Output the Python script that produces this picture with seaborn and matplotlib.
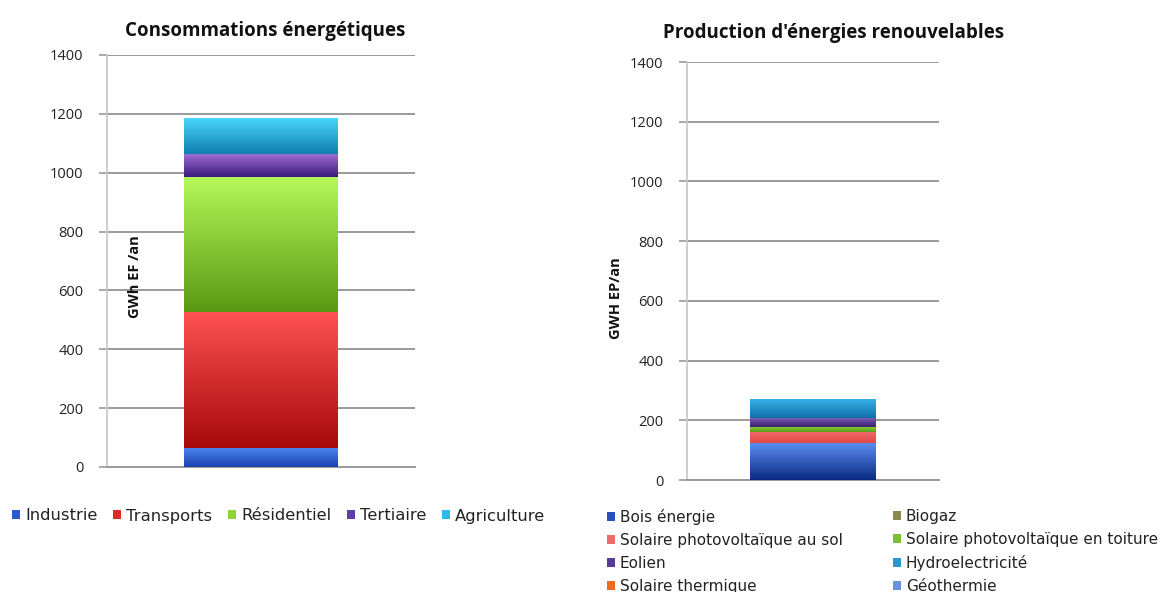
import numpy as np
import pandas as pd
import matplotlib
matplotlib.use("Agg")
import matplotlib.pyplot as plt
from matplotlib.patches import Patch
from matplotlib.colors import LinearSegmentedColormap
import seaborn as sns

# ---------------- data ----------------
conso_categories = ["Industrie", "Transports", "Résidentiel", "Tertiaire", "Agriculture"]
conso_values = [65, 463, 456, 79, 119]

prod_categories = ["Bois énergie", "Biogaz", "Solaire photovoltaïque au sol",
                   "Solaire photovoltaïque en toiture", "Eolien", "Hydroelectricité",
                   "Solaire thermique", "Géothermie"]
prod_values = [123, 0, 38, 17, 31, 63, 0, 0]

yticks = [0, 200, 400, 600, 800, 1000, 1200, 1400]

# colours (top, bottom) of gradients
conso_colors = {
    "Industrie": ("#4f86f0", "#1a44b0"),
    "Transports": ("#ff5252", "#a60a0a"),
    "Résidentiel": ("#b4f75a", "#5a9812"),
    "Tertiaire": ("#a070d8", "#3a1a7c"),
    "Agriculture": ("#48d4fa", "#1080b2"),
}
prod_colors = {
    "Bois énergie": ("#5a8cf2", "#0c2a84"),
    "Biogaz": ("#9a9a5a", "#6e6e36"),
    "Solaire photovoltaïque au sol": ("#f26a6a", "#e04848"),
    "Solaire photovoltaïque en toiture": ("#8ad03a", "#5e9e18"),
    "Eolien": ("#8060b8", "#3a2070"),
    "Hydroelectricité": ("#38b0e8", "#1070a8"),
    "Solaire thermique": ("#f47a30", "#e05a10"),
    "Géothermie": ("#7aa0ea", "#4a78d0"),
}
legend_conso = {"Industrie": "#2a5ad0", "Transports": "#e02a2a", "Résidentiel": "#8cd43a",
                "Tertiaire": "#6040a8", "Agriculture": "#30b8e8"}
legend_prod = {"Bois énergie": "#2a50c0", "Biogaz": "#8a8a50",
               "Solaire photovoltaïque au sol": "#f06a6a",
               "Solaire photovoltaïque en toiture": "#7ac030",
               "Eolien": "#5a3a98", "Hydroelectricité": "#2898d0",
               "Solaire thermique": "#f06a20", "Géothermie": "#6a90e0"}

sns.set_theme(style="white")
plt.rcParams['font.family'] = ['Lato', 'DejaVu Sans']

fig = plt.figure(figsize=(11.73, 5.92), dpi=100)
W, H = 1173, 592


def axes_px(x0, y0, x1, y1):
    return fig.add_axes([x0 / W, 1 - y1 / H, (x1 - x0) / W, (y1 - y0) / H])


ax1 = axes_px(107, 55, 415, 467)
ax2 = axes_px(687, 62, 939, 480)


def stacked(ax, cats, vals, cols):
    bottom = 0.0
    for c, v in zip(cats, vals):
        df = pd.DataFrame({"g": ["total"], "v": [v]})
        n_before = len(ax.patches)
        sns.barplot(data=df, x="g", y="v", ax=ax, bottom=bottom, width=0.5,
                    color=cols[c][0], linewidth=0, errorbar=None)
        for p in ax.patches[n_before:]:
            x0, y0 = p.get_x(), p.get_y()
            w, h = p.get_width(), p.get_height()
            if h <= 0:
                continue
            cmap = LinearSegmentedColormap.from_list("g", [cols[c][1], cols[c][0]])
            grad = np.linspace(0, 1, 64).reshape(-1, 1)
            ax.imshow(grad, cmap=cmap, extent=(x0, x0 + w, y0, y0 + h),
                      origin="lower", aspect="auto", zorder=3, interpolation="bicubic")
        bottom += v


def style(ax, title, pad):
    ax.set_ylim(0, 1400)
    ax.set_xlim(-0.5, 0.5)
    ax.set_yticks(yticks)
    ax.set_yticklabels([str(t) for t in yticks], fontsize=10.5, color="#222222",
                       family=['Open Sans', 'DejaVu Sans'])
    ax.yaxis.grid(True, color="#9a9a9a", linewidth=1.4)
    ax.set_axisbelow(True)
    ax.tick_params(axis="y", length=6, color="#9a9a9a", width=1.2, pad=11, left=True)
    ax.tick_params(axis="x", bottom=False, labelbottom=False)
    ax.set_xlabel("")
    ax.set_ylabel("")
    for s in ["top", "right"]:
        ax.spines[s].set_visible(False)
    ax.spines["left"].set_color("#c8c8c8")
    ax.spines["bottom"].set_color("#9a9a9a")
    ax.spines["bottom"].set_linewidth(1.4)
    ax.set_title(title, fontsize=13.5, fontweight="bold", color="#111111", pad=pad,
                 family=['Open Sans', 'DejaVu Sans'])
    ax.set_aspect("auto")


stacked(ax1, conso_categories, conso_values, conso_colors)
stacked(ax2, prod_categories, prod_values, prod_colors)
style(ax1, "Consommations énergétiques", 14)
style(ax2, "Production d'énergies renouvelables", 17)
ax1.title.set_position((0.515, 1.0))
ax2.title.set_position((0.58, 1.0))

fig.text(135 / W, 1 - 277 / H, "GWh EF /an", rotation=90, fontsize=10.5,
         fontweight="bold", ha="center", va="center", color="#111111",
         family=['Open Sans', 'DejaVu Sans'])
fig.text(616 / W, 1 - 298 / H, "GWH EP/an", rotation=90, fontsize=10.5,
         fontweight="bold", ha="center", va="center", color="#111111",
         family=['Open Sans', 'DejaVu Sans'])

# legends
h1 = [Patch(facecolor=legend_conso[c], edgecolor="none", label=c) for c in conso_categories]
fig.legend(handles=h1, loc="center left", bbox_to_anchor=(12 / W, 1 - 516 / H),
           ncol=5, frameon=False, prop={"family": "DejaVu Sans", "size": 11.8},
           handlelength=0.5, handleheight=0.5,
           handletextpad=0.3, columnspacing=0.95, labelcolor="#222222",
           borderaxespad=0, borderpad=0)

legfont = {"family": "DejaVu Sans", "size": 11}
col1 = ["Bois énergie", "Solaire photovoltaïque au sol", "Eolien", "Solaire thermique"]
col2 = ["Biogaz", "Solaire photovoltaïque en toiture", "Hydroelectricité", "Géothermie"]
for names, xpx in ((col1, 607), (col2, 893)):
    hh = [Patch(facecolor=legend_prod[c], edgecolor="none", label=c) for c in names]
    fig.legend(handles=hh, loc="upper left", bbox_to_anchor=(xpx / W, 1 - 509 / H),
               ncol=1, frameon=False, prop=legfont, handlelength=0.55, handleheight=0.55,
               handletextpad=0.3, labelspacing=0.52, labelcolor="#222222",
               borderaxespad=0, borderpad=0)

fig.savefig("out.png", dpi=100, facecolor="white")
